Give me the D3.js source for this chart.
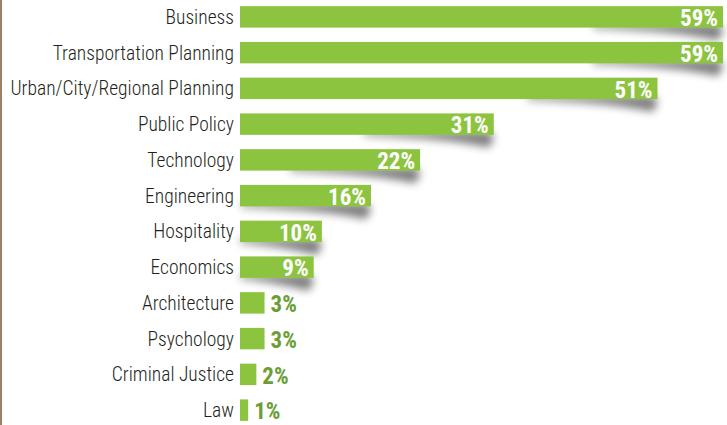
<!DOCTYPE html>
<html>
<head>
<meta charset="utf-8">
<script src="https://cdn.jsdelivr.net/npm/d3@7"></script>
<style>
  body { margin: 0; background: #fff; }
  svg { display: block; }
</style>
</head>
<body>
<script>
const width = 727;
const height = 425;

const fields = ["Business", "Transportation Planning", "Urban/City/Regional Planning",
  "Public Policy", "Technology", "Engineering", "Hospitality", "Economics",
  "Architecture", "Psychology", "Criminal Justice", "Law"];
const percents = [59, 59, 51, 31, 22, 16, 10, 9, 3, 3, 2, 1];

const rows = fields.map(function(f, i) { return {field: f, value: percents[i]}; });

const x = d3.scaleLinear().domain([0, 59]).range([240, 723]);
const y = d3.scaleBand().domain(fields).range([-1, 428]).paddingInner(0.4).paddingOuter(0.2);

const condensed = "'Roboto Condensed', 'Liberation Sans Narrow', 'DejaVu Sans Condensed', sans-serif";

const svg = d3.select("body").append("svg")
  .attr("width", width)
  .attr("height", height);

const defs = svg.append("defs");
defs.append("filter").attr("id", "blur")
  .attr("x", "-30%").attr("y", "-150%").attr("width", "160%").attr("height", "400%")
  .append("feGaussianBlur").attr("stdDeviation", 4);

// left frame line
svg.append("line")
  .attr("x1", 1).attr("x2", 1).attr("y1", 0).attr("y2", height)
  .attr("stroke", "#a08060").attr("stroke-width", 2);

// bar shadows
svg.selectAll(".shadow")
  .data(rows.filter(function(d) { return d.value >= 9; }))
  .enter().append("path")
  .attr("class", "shadow")
  .attr("filter", "url(#blur)")
  .attr("fill", "#000")
  .attr("opacity", 0.5)
  .attr("d", function(d) {
    let x1 = x(d.value), x0 = Math.max(x(0), x1 - 130);
    let yb = y(d.field) + y.bandwidth();
    return "M" + x0 + "," + (yb - 3) + " L" + (x1 - 4) + "," + (yb - 3)
      + " Q" + (x1 + 4) + "," + (yb + 4) + " " + (x1 - 6) + "," + (yb + 13)
      + " Q" + (x1 - 40) + "," + (yb + 4) + " " + x0 + "," + (yb + 1) + " Z";
  });

svg.selectAll(".bar")
  .data(rows)
  .enter().append("rect")
  .attr("class", "bar")
  .attr("x", x(0))
  .attr("y", function(d) { return y(d.field); })
  .attr("width", function(d) { return x(d.value) - x(0); })
  .attr("height", y.bandwidth())
  .attr("fill", "#8cc43f");

svg.selectAll(".label")
  .data(rows)
  .enter().append("text")
  .attr("class", "label")
  .attr("x", 234)
  .attr("y", function(d) { return y(d.field) + y.bandwidth() / 2; })
  .attr("dy", "0.36em")
  .attr("text-anchor", "end")
  .attr("font-family", condensed)
  .attr("font-weight", 300)
  .attr("font-size", 19.5)
  .attr("fill", "#231f20")
  .text(function(d) { return d.field; });

svg.selectAll(".value")
  .data(rows)
  .enter().append("text")
  .attr("class", "value")
  .attr("x", function(d) { return d.value >= 9 ? x(d.value) - 5 : x(d.value) + 6; })
  .attr("y", function(d) { return y(d.field) + y.bandwidth() / 2; })
  .attr("dy", "0.4em")
  .attr("text-anchor", function(d) { return d.value >= 9 ? "end" : "start"; })
  .attr("font-family", condensed)
  .attr("font-weight", "bold")
  .attr("font-size", 23)
  .attr("fill", function(d) { return d.value >= 9 ? "#fff" : "#6a9e34"; })
  .text(function(d) { return d.value + "%"; });
</script>
</body>
</html>
